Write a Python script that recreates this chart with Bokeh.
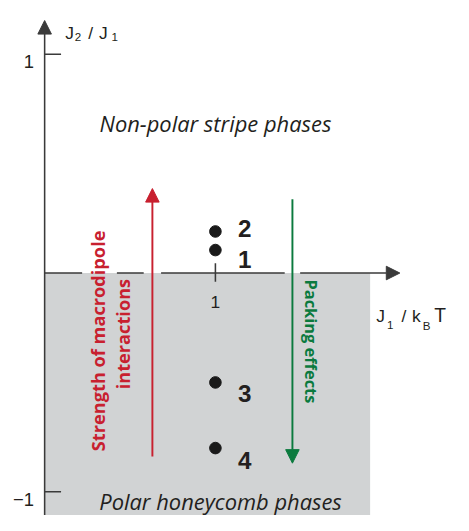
import math
from bokeh.plotting import figure
from bokeh.models import Range1d, Arrow, NormalHead
from bokeh.core.properties import value
from bokeh.embed import file_html
from bokeh.resources import INLINE

# ---------------- data ----------------
state_names = ["1", "2", "3", "4"]
state_j1 = [1.0, 1.0, 1.0, 1.0]            # J1 / kBT
state_ratio = [0.105, 0.19, -0.50, -0.80]  # J2 / J1
y_ticks = [1, -1]
y_tick_labels = ["1", "\u22121"]
x_ticks = [1]
x_tick_labels = ["1"]
polar_region_right = 1.906     # J1/kBT extent of the shaded (polar) region
upper_label = "Non-polar stripe phases"
lower_label = "Polar honeycomb phases"
red_label_lines = ["Strength of macrodipole", "interactions"]
green_label = "Packing effects"
red_arrow_x, red_arrow_from, red_arrow_to = 0.631, -0.838, 0.386
green_arrow_x, green_arrow_from, green_arrow_to = 1.451, 0.337, -0.869
y_axis_tip = 1.154
x_axis_tip = 2.080

# ---------------- layout / style ----------------
W, H = 453, 515
RSX, RSY = 176.8, 225.6        # design pixels per data unit
X0, X1 = -45.7 / RSX, (469 - 45.7) / RSX
Y0, Y1 = (281 - 531) / RSY, 281 / RSY
K = 0.967                      # design px -> screen px


def px(n):
    return n / RSX


def py(n):
    return n / RSY


def fs(n):
    return f"{n * K:.1f}px"


AX = "#3a3a3a"
INK = "#231f20"
GRAY = "#d1d3d4"
RED = "#c8202f"
GREEN = "#0b7a3e"
SANS = value("Liberation Sans")
HUM = value("Open Sans")

p = figure(width=W, height=H, x_range=Range1d(X0, X1), y_range=Range1d(Y0, Y1),
           x_axis_type=None, y_axis_type=None, toolbar_location=None,
           output_backend="svg", min_border=0, outline_line_color=None,
           background_fill_color="white", border_fill_color="white")
p.xgrid.visible = False
p.ygrid.visible = False

LW = 1.6 * K

# shaded polar region
p.quad(left=0, right=polar_region_right, bottom=Y0, top=0,
       fill_color=GRAY, line_color=None)

# y axis with arrow
p.add_layout(Arrow(x_start=0, y_start=Y0, x_end=0, y_end=y_axis_tip,
                   line_color=AX, line_width=LW,
                   end=NormalHead(size=14 * K, fill_color=AX, line_color=AX, line_width=1)))
p.segment(x0=[0] * len(y_ticks), x1=[px(17)] * len(y_ticks), y0=y_ticks, y1=y_ticks,
          line_color=AX, line_width=LW)
p.text(x=[-px(11)] * len(y_ticks), y=[t - py(7.5) for t in y_ticks], text=y_tick_labels,
       text_align="right", text_baseline="alphabetic", text_font=SANS,
       text_font_size=fs(19), text_color=INK)

# x axis (interrupted around the red label / arrows) with arrow
gaps = sorted([
    (0.31 - px(16), 0.31 + px(20)),
    (red_arrow_x - px(9), red_arrow_x + px(9)),
    (green_arrow_x - px(8), green_arrow_x + px(8)),
])
starts, ends = [0.0], []
for g0, g1 in gaps:
    ends.append(g0)
    starts.append(g1)
p.segment(x0=starts[:-1], x1=ends, y0=[0] * len(ends), y1=[0] * len(ends),
          line_color=AX, line_width=LW)
p.add_layout(Arrow(x_start=starts[-1], y_start=0, x_end=x_axis_tip, y_end=0,
                   line_color=AX, line_width=LW,
                   end=NormalHead(size=14 * K, fill_color=AX, line_color=AX, line_width=1)))
p.segment(x0=x_ticks, x1=x_ticks, y0=[py(10)] * len(x_ticks), y1=[-py(9)] * len(x_ticks),
          line_color=AX, line_width=LW)
p.text(x=x_ticks, y=[-py(30)] * len(x_ticks), text=x_tick_labels,
       text_align="center", text_baseline="alphabetic", text_font=SANS,
       text_font_size=fs(18), text_color=INK)


# axis titles built from pieces (for subscripts)
def rich(x, y, pieces):
    for txt, dx, dy, size in pieces:
        p.text(x=[x + px(dx)], y=[y - py(dy)], text=[txt], text_align="left",
               text_baseline="alphabetic", text_font=SANS, text_font_size=fs(size),
               text_color=INK)


rich(0.120, 1.099, [("J", 0, 0, 18), ("2", 10, 5, 12), ("/", 24, 0, 18),
                    ("J", 35, 0, 18), ("1", 48, 5, 12)])
rich(1.942, -0.195, [("J", 0, 0, 18), ("1", 11, 10, 12), ("/", 26, 0, 18),
                     ("k", 37, 0, 18), ("B", 48, 10, 12), ("T", 60, 0, 20)])

# red / green arrows
p.add_layout(Arrow(x_start=red_arrow_x, y_start=red_arrow_from, x_end=red_arrow_x,
                   y_end=red_arrow_to, line_color=RED, line_width=2 * K,
                   end=NormalHead(size=14 * K, fill_color=RED, line_color=RED, line_width=1)))
p.add_layout(Arrow(x_start=green_arrow_x, y_start=green_arrow_from, x_end=green_arrow_x,
                   y_end=green_arrow_to, line_color=GREEN, line_width=2 * K,
                   end=NormalHead(size=14 * K, fill_color=GREEN, line_color=GREEN,
                                  line_width=1)))

p.text(x=[0.31, 0.457], y=[-0.31, -0.279], text=red_label_lines, angle=math.pi / 2,
       text_align="center", text_baseline="middle", text_font=HUM,
       text_font_style="bold", text_font_size=fs(18.8), text_color=RED)
p.text(x=[1.56], y=[-0.3125], text=[green_label], angle=-math.pi / 2,
       text_align="center", text_baseline="middle", text_font=HUM,
       text_font_style="bold", text_font_size=fs(17), text_color=GREEN)

# region labels
p.text(x=[1.0, 1.03], y=[0.683, -1.045], text=[upper_label, lower_label],
       text_align="center", text_baseline="alphabetic", text_font=HUM,
       text_font_style="italic", text_font_size=fs(22.6), text_color=INK)

# states
p.scatter(x=state_j1, y=state_ratio, size=12 * K, color="#1a1a1a")
label_dy = [10, -3, 11, 13]
p.text(x=[v + px(23.5) for v in state_j1],
       y=[v - py(d) for v, d in zip(state_ratio, label_dy)], text=state_names,
       text_align="left", text_baseline="alphabetic", text_font=SANS,
       text_font_style="bold", text_font_size=fs(25), text_color=INK)

open("out.html", "w").write(file_html(p, INLINE))
